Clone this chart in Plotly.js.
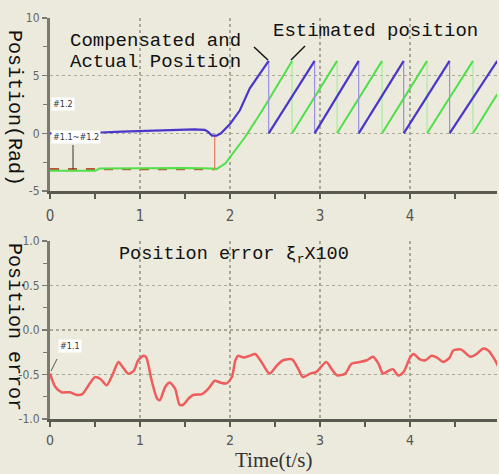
<!DOCTYPE html>
<html>
<head>
<meta charset="utf-8">
<script src="https://cdn.plot.ly/plotly-3.0.1.min.js"></script>
<style>html,body{margin:0;padding:0;background:#ECEADC;}#chart{width:499px;height:474px;}</style>
</head>
<body>
<div id="chart"></div>
<script>
// ---- data ----
const blueT = [0,0.2,0.5,0.8,1.0,1.3,1.6,1.72,1.76,1.80,1.85,1.90,2.00,2.11,2.22,2.43, 2.43,2.94, 2.94,3.43, 3.43,3.93, 3.93,4.44, 4.44,4.97];
const blueY = [0.0,0.0,0.05,0.15,0.2,0.3,0.35,0.3,0.1,-0.2,-0.2,0.0,0.8,2.0,3.9,6.28, 0,6.28, 0,6.28, 0,6.28, 0,6.28, 0,6.28];
const greenT = [0,0.5,0.55,1.0,1.5,1.8,1.85,1.95,2.05,2.17,2.36,2.69, 2.69,3.19, 3.19,3.69, 3.69,4.19, 4.19,4.70, 4.70,4.97];
const greenY = [-3.25,-3.25,-3.05,-3.0,-3.0,-3.05,-3.1,-2.6,-1.6,-0.3,2.0,6.28, 0,6.28, 0,6.28, 0,6.28, 0,6.28, 0,3.4];
const actualT = [0, 1.83];
const actualY = [-3.1, -3.1];
const jumpT = [1.83, 1.83];
const jumpY = [-3.1, -0.15];
const errT = [0,0.06,0.13,0.22,0.30,0.36,0.43,0.50,0.56,0.63,0.70,0.76,0.81,0.87,0.93,0.98,1.04,1.07,1.13,1.19,1.22,1.28,1.33,1.39,1.44,1.48,1.54,1.59,1.69,1.76,1.83,1.89,1.96,2.02,2.06,2.09,2.15,2.22,2.28,2.35,2.44,2.52,2.59,2.69,2.76,2.81,2.89,2.96,3.07,3.13,3.19,3.28,3.35,3.44,3.52,3.59,3.65,3.70,3.76,3.81,3.87,3.93,4.00,4.04,4.11,4.17,4.24,4.30,4.37,4.44,4.48,4.57,4.67,4.74,4.81,4.87,4.94,4.98];
const errY = [-0.49,-0.64,-0.70,-0.70,-0.73,-0.72,-0.62,-0.53,-0.55,-0.62,-0.49,-0.36,-0.42,-0.49,-0.46,-0.34,-0.29,-0.31,-0.57,-0.77,-0.79,-0.64,-0.59,-0.66,-0.84,-0.84,-0.77,-0.73,-0.72,-0.66,-0.57,-0.59,-0.60,-0.53,-0.34,-0.29,-0.31,-0.29,-0.27,-0.36,-0.49,-0.40,-0.34,-0.33,-0.44,-0.53,-0.49,-0.47,-0.36,-0.44,-0.51,-0.49,-0.38,-0.36,-0.34,-0.30,-0.38,-0.49,-0.46,-0.44,-0.51,-0.47,-0.31,-0.27,-0.33,-0.34,-0.29,-0.31,-0.36,-0.31,-0.23,-0.22,-0.30,-0.27,-0.21,-0.23,-0.33,-0.41];
const xTicks = [0,1,2,3,4];
const xTickText = ['0','1','2','3','4'];
const topYTicks = [-5,0,5,10];
const topYText = ['-5','0','5','10'];
const botYTicks = [-1,-0.5,0,0.5,1];
const botYText = ['-1.0','-0.5','0.0','0.5','1.0'];

// split a sawtooth into rising parts and vertical drop parts
function split(T, Y) {
  const rx = [], ry = [], dx = [], dy = [];
  for (let i = 0; i < T.length; i++) {
    if (i > 0 && T[i] === T[i-1]) {
      dx.push(T[i-1], T[i], null); dy.push(Y[i-1], Y[i], null);
      rx.push(null); ry.push(null);
    }
    rx.push(T[i]); ry.push(Y[i]);
  }
  return {rx, ry, dx, dy};
}
const B = split(blueT, blueY);
const G = split(greenT, greenY);

const W = 499, H = 474, L = 50, R = 2;
const PW = W - L - R;
const px = v => (v - L) / PW;
const py = v => (H - v) / H;

const mono = 'Liberation Mono, Courier New, monospace';
const narrow = 'Liberation Sans Narrow, DejaVu Sans Condensed, Arial Narrow, sans-serif';
const axisCol = '#5a5a50';
const gridCol = '#a9a796';

const traces = [
  {x: actualT, y: actualY, xaxis:'x', yaxis:'y', mode:'lines', line:{color:'#b8553a', width:2.2, dash:'dash'}, hoverinfo:'skip'},
  {x: G.dx, y: G.dy, xaxis:'x', yaxis:'y', mode:'lines', line:{color:'#a8eca0', width:1.2}, connectgaps:false},
  {x: G.rx, y: G.ry, xaxis:'x', yaxis:'y', mode:'lines', line:{color:'#4fe04a', width:2}, connectgaps:false},
  {x: jumpT, y: jumpY, xaxis:'x', yaxis:'y', mode:'lines', line:{color:'#e8806a', width:1.3}},
  {x: B.dx, y: B.dy, xaxis:'x', yaxis:'y', mode:'lines', line:{color:'#9a90e0', width:1.2}, connectgaps:false},
  {x: B.rx, y: B.ry, xaxis:'x', yaxis:'y', mode:'lines', line:{color:'#4a36c8', width:2.2}, connectgaps:false},
  {x: errT, y: errY, xaxis:'x2', yaxis:'y2', mode:'lines', line:{color:'#ee5c5c', width:2.5, shape:'spline', smoothing:0.7}}
];

function xax(anchor, standoff, fsize) {
  return {
    anchor: anchor, range:[0, PW/90], showline:true, linecolor:axisCol, linewidth:3,
    ticks:'outside', ticklen:5, tickwidth:1.5, tickcolor:axisCol,
    tickvals:xTicks, ticktext:xTickText, ticklabelstandoff: standoff,
    minor:{dtick:0.5, ticks:'outside', ticklen:5, tickwidth:1.5, tickcolor:axisCol, showgrid:false},
    showgrid:true, gridcolor:gridCol, griddash:'dot', gridwidth:1.5, zeroline:false,
    tickfont:{family:narrow, size:fsize, color:'#555'}
  };
}
function yax(anchor, dom, range, vals, text, minorStep) {
  return {
    anchor: anchor, domain: dom, range: range, showline:true, linecolor:'#7a7a70', linewidth:3,
    ticks:'outside', ticklen:5, tickwidth:1.5, tickcolor:'#7a7a70',
    tickvals: vals, ticktext: text,
    minor:{dtick:minorStep, ticks:'outside', ticklen:4, tickwidth:1.2, tickcolor:'#7a7a70', showgrid:false},
    showgrid:true, gridcolor:gridCol, griddash:'dot', gridwidth:1.5, zeroline:false,
    tickfont:{family:narrow, size:12, color:'#666'}
  };
}

const ann = [];
function txt(t, x, y, size, opts) {
  ann.push(Object.assign({text:t, xref:'paper', yref:'paper', x:px(x), y:py(y), xanchor:'left', yanchor:'middle',
    showarrow:false, font:{family:mono, size:size, color:'#111'}}, opts || {}));
}
txt('Compensated and', 68, 41, 19);
txt('Actual Position', 68, 62, 19);
txt('Estimated position', 271, 31, 19);
txt('Position error ξ<sub>r</sub>X100', 117, 255, 18.5);
txt('Position(Rad)', 15, 108, 20, {xanchor:'center', textangle:90});
txt('Position error', 15, 327, 20, {xanchor:'center', textangle:90});
txt('Time(t/s)', 273, 460, 21, {xanchor:'center', font:{family:'Liberation Serif, Times New Roman, serif', size:21, color:'#333'}});
const lab = {family:narrow, size:9, color:'#333'};
txt('#1.2', 51, 104, 9, {font:lab, bgcolor:'#ffffff', borderpad:1});
txt('#1.1~#1.2', 51, 137, 9, {font:lab, bgcolor:'#ffffff', borderpad:1});
txt('#1.1', 58, 346, 9, {font:lab, bgcolor:'#ffffff', borderpad:1});

function seg(x0, y0, x1, y1, col, w) {
  return {type:'line', xref:'paper', yref:'paper', x0:px(x0), y0:py(y0), x1:px(x1), y1:py(y1), line:{color:col, width:w}};
}
const shapes = [
  seg(254, 47, 268, 60, '#111', 1.5),
  seg(291, 60, 305, 46, '#111', 1.5),
  seg(73, 145, 73, 169, '#333', 1),
  seg(57, 359, 51, 371, '#555', 1)
];

const layout = {
  width: W, height: H, margin:{l:L, r:R, t:0, b:0},
  paper_bgcolor:'#ECEADC', plot_bgcolor:'#ECEADC', showlegend:false,
  xaxis: xax('y', 4, 15),
  yaxis: yax('x', [py(191), py(18)], [-5, 10], topYTicks, topYText, 2.5),
  xaxis2: xax('y2', 1, 14),
  yaxis2: yax('x2', [py(419), py(241)], [-1, 1], botYTicks, botYText, 0.25),
  annotations: ann, shapes: shapes
};
Plotly.newPlot('chart', traces, layout, {displayModeBar:false, staticPlot:true});
</script>
</body>
</html>
